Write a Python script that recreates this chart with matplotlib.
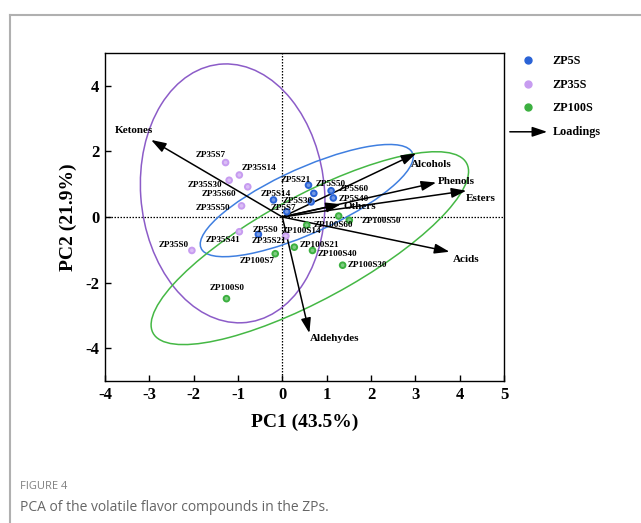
import numpy as np
import matplotlib
matplotlib.use("Agg")
import matplotlib.pyplot as plt
from matplotlib.patches import Ellipse, FancyArrowPatch
from matplotlib.lines import Line2D

plt.rcParams["axes.unicode_minus"] = False

# ---- data ----
zp5s_names = ["ZP5S0", "ZP5S7", "ZP5S14", "ZP5S21", "ZP5S30", "ZP5S40", "ZP5S50", "ZP5S60"]
zp5s_pc1 = [-0.54, 0.10, -0.20, 0.59, 0.65, 1.15, 0.71, 1.10]
zp5s_pc2 = [-0.53, 0.16, 0.52, 0.97, 0.46, 0.58, 0.72, 0.80]

zp35s_names = ["ZP35S0", "ZP35S7", "ZP35S14", "ZP35S21", "ZP35S30", "ZP35S41", "ZP35S50", "ZP35S60"]
zp35s_pc1 = [-2.04, -1.28, -0.97, 0.08, -1.20, -0.97, -0.92, -0.78]
zp35s_pc2 = [-1.02, 1.66, 1.28, -0.58, 1.12, -0.45, 0.34, 0.92]

zp100s_names = ["ZP100S0", "ZP100S7", "ZP100S14", "ZP100S21", "ZP100S30", "ZP100S40", "ZP100S50", "ZP100S60"]
zp100s_pc1 = [-1.26, -0.16, 0.55, 0.27, 1.36, 0.68, 1.51, 1.27]
zp100s_pc2 = [-2.49, -1.12, -0.25, -0.92, -1.47, -1.02, -0.10, 0.03]

load_names = ["Ketones", "Alcohols", "Phenols", "Esters", "Others", "Acids", "Aldehydes"]
load_pc1 = [-2.96, 3.02, 3.47, 4.15, 1.32, 3.77, 0.61]
load_pc2 = [2.35, 1.94, 1.05, 0.80, 0.39, -1.06, -3.54]

# ---- label offsets (pixels: left edge of text, vertical centre) ----
lab_off = {
    "ZP5S0": (-6, 4), "ZP5S7": (-16, 4), "ZP5S14": (-13, 6), "ZP5S21": (-28, 5),
    "ZP5S30": (-29, 1), "ZP5S40": (5, -1), "ZP5S50": (2, 9), "ZP5S60": (8, 2),
    "ZP35S0": (-33, 5), "ZP35S7": (-30, 8), "ZP35S14": (2, 7), "ZP35S21": (-34, -5),
    "ZP35S30": (-42, -5), "ZP35S41": (-34, -8), "ZP35S50": (-46, -2), "ZP35S60": (-46, -7),
    "ZP100S0": (-17, 11), "ZP100S7": (-36, -7), "ZP100S14": (-25, -6), "ZP100S21": (5, 2),
    "ZP100S30": (5, 0), "ZP100S40": (5, -4), "ZP100S50": (12, -1), "ZP100S60": (-25, -9),
}
load_off = {
    "Ketones": (-36, 9), "Alcohols": (-5, -11), "Phenols": (2, 1), "Esters": (-1, -8),
    "Others": (3, -2), "Acids": (3, -8), "Aldehydes": (1, -5),
}

c_blue, c_purple, c_green = "#2a63d6", "#c79cf0", "#3cb040"
e_blue, e_purple, e_green = "#3f7fe0", "#8c5cc8", "#45b845"

serif = "Liberation Serif"
px = 72 / 100  # pixel -> point

fig = plt.figure(figsize=(6.41, 5.23), dpi=100)
ax = fig.add_axes([0.1638, 0.2715, 0.6225, 0.6272])
ax.set_xlim(-4, 5)
ax.set_ylim(-5, 5)

ax.axhline(0, color="black", ls=(0, (1.2, 1.2)), lw=0.9, zorder=1)
ax.axvline(0, color="black", ls=(0, (1.2, 1.2)), lw=0.9, zorder=1)

# confidence ellipses
ax.add_patch(Ellipse((-1.12, 0.72), 4.15, 7.9, angle=3, fill=False, ec=e_purple, lw=1.1, zorder=2))
ax.add_patch(Ellipse((0.55, 0.5), 5.6, 1.85, angle=33, fill=False, ec=e_blue, lw=1.1, zorder=2))
ax.add_patch(Ellipse((0.62, -0.95), 8.8, 2.9, angle=38, fill=False, ec=e_green, lw=1.1, zorder=2))

# loadings arrows
for name, x, y in zip(load_names, load_pc1, load_pc2):
    ax.annotate("", xy=(x, y), xytext=(0, 0),
                arrowprops=dict(arrowstyle="-|>,head_length=0.9,head_width=0.3",
                                color="black", lw=1.1, mutation_scale=10, shrinkA=0, shrinkB=0),
                zorder=3)
    dx, dy = load_off[name]
    ax.annotate(name, (x, y), xytext=(dx * px, dy * px), textcoords="offset points",
                ha="left", va="center", fontsize=8, fontweight="bold", family=serif, zorder=5)

# sample points
groups = [
    (zp5s_names, zp5s_pc1, zp5s_pc2, c_blue),
    (zp35s_names, zp35s_pc1, zp35s_pc2, c_purple),
    (zp100s_names, zp100s_pc1, zp100s_pc2, c_green),
]
for names, xs, ys, col in groups:
    ax.scatter(xs, ys, s=30, color=col, edgecolors="none", zorder=4)
    ax.scatter(xs, ys, s=7, color="white", alpha=0.35, edgecolors="none", zorder=4)
    for n, x, y in zip(names, xs, ys):
        dx, dy = lab_off[n]
        ax.annotate(n, (x, y), xytext=(dx * px, dy * px), textcoords="offset points",
                    ha="left", va="center", fontsize=6.6, fontweight="bold", family=serif, zorder=5)

ax.set_xticks(range(-4, 6))
ax.set_yticks([-4, -2, 0, 2, 4])
ax.tick_params(direction="in", length=4, width=1, top=False, right=False, pad=4)
for lab in ax.get_xticklabels() + ax.get_yticklabels():
    lab.set_family(serif)
    lab.set_fontweight("bold")
    lab.set_fontsize(12)
for sp in ax.spines.values():
    sp.set_linewidth(1)
ax.set_xlabel("PC1 (43.5%)", family=serif, fontweight="bold", fontsize=14, labelpad=8)
ax.set_ylabel("PC2 (21.9%)", family=serif, fontweight="bold", fontsize=14, labelpad=6)

# legend, outside right
leg_items = [("ZP5S", c_blue, 0.883), ("ZP35S", c_purple, 0.838), ("ZP100S", c_green, 0.793)]
for text, col, yy in leg_items:
    fig.add_artist(Line2D([0.823], [yy + 0.002], marker="o", ms=5, color=col, ls="none",
                          transform=fig.transFigure))
    fig.text(0.862, yy, text, family=serif, fontweight="bold", fontsize=8.7, va="center")
fig.add_artist(FancyArrowPatch((0.791, 0.748), (0.858, 0.748), transform=fig.transFigure,
                               arrowstyle="-|>,head_length=0.9,head_width=0.3",
                               mutation_scale=10, color="black", lw=1.1))
fig.text(0.862, 0.748, "Loadings", family=serif, fontweight="bold", fontsize=8.7, va="center")

# outer frame and caption
fig.add_artist(Line2D([0.016, 1.0], [0.971, 0.971], color="#b0b0b0", lw=1.5, transform=fig.transFigure))
fig.add_artist(Line2D([0.016, 0.016], [0.0, 0.971], color="#b0b0b0", lw=1.5, transform=fig.transFigure))
fig.text(0.031, 0.069, "FIGURE 4", family="Open Sans", fontsize=8, color="#808080", va="center")
fig.text(0.031, 0.029, "PCA of the volatile flavor compounds in the ZPs.", family="Open Sans",
         fontsize=10, color="#666666", va="center")

fig.savefig("out.png", dpi=100)
